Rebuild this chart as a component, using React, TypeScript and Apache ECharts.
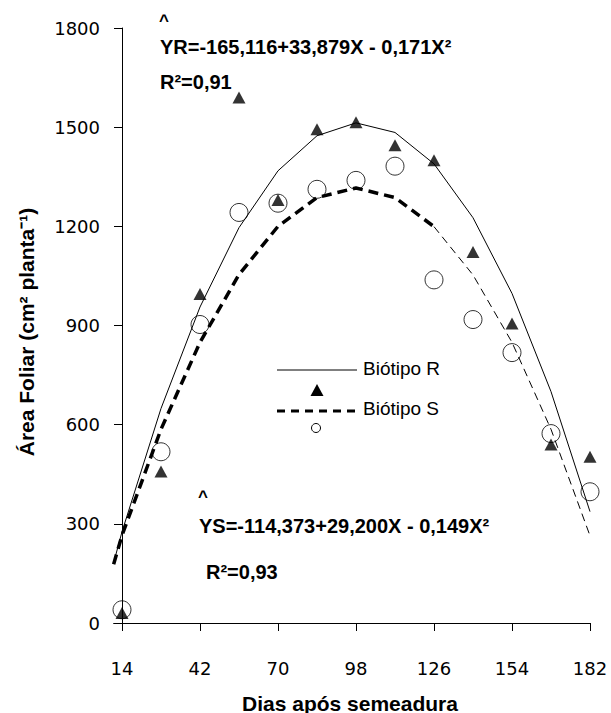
import React, { useEffect, useRef } from "react";
import * as echarts from "echarts";

// Observed data (Dias após semeadura vs Área Foliar)
const daysTicks = [14, 42, 70, 98, 126, 154, 182];
const obsDays = [14, 28, 42, 56, 70, 84, 98, 112, 126, 140, 154, 168, 182];
const obsR = [30, 458, 995, 1590, 1280, 1494, 1515, 1445, 1400, 1122, 906, 540, 503];
const obsS = [40, 518, 903, 1242, 1270, 1312, 1339, 1382, 1038, 918, 818, 573, 397];

// Fitted curves
const fitDays = [11, 14, 28, 42, 56, 70, 84, 98, 112, 126, 140, 154, 168, 182];
const fitR = [182, 276, 649, 956, 1196, 1368, 1474, 1513, 1484, 1389, 1226, 997, 700, 337];
const fitS = [178, 265, 586, 849, 1054, 1200, 1287, 1316, 1287, 1199, 1053, 849, 586, 264];
const thickUntil = 126;
const yTicks = [0, 300, 600, 900, 1200, 1500, 1800];

const eqR = "YR=-165,116+33,879X - 0,171X²";
const r2R = "R²=0,91";
const eqS = "YS=-114,373+29,200X - 0,149X²";
const r2S = "R²=0,93";
const legendR = "Biótipo R";
const legendS = "Biótipo S";

const X_MIN = 11;
const X_MAX = 182;
const PLOT_RIGHT = 590;
const Y_AXIS_X = 122;

export default function App() {
  const ref = useRef<HTMLDivElement>(null);
  useEffect(() => {
    if (!ref.current) return;
    const chart = echarts.init(ref.current, null, { renderer: "svg" });
    const pair = (xs: number[], ys: number[]) => xs.map((x, i) => [x, ys[i]]);
    const fitSPairs = pair(fitDays, fitS);
    const sThick = fitSPairs.filter((p) => p[0] <= thickUntil);
    const sThin = fitSPairs.filter((p) => p[0] >= thickUntil);
    const pxPerDay = (PLOT_RIGHT - Y_AXIS_X) / (182 - 14);
    const gridLeft = Y_AXIS_X - (14 - X_MIN) * pxPerDay;
    const eqFont = { fontFamily: "Liberation Sans, Arial, sans-serif", fontWeight: "bold", fill: "#000" };
    chart.setOption({
      animation: false,
      backgroundColor: "#fff",
      grid: { left: gridLeft, right: 611 - PLOT_RIGHT, top: 28, bottom: 90 },
      xAxis: {
        type: "value",
        min: X_MIN,
        max: X_MAX,
        splitLine: { show: false },
        axisLine: { show: true, onZero: false, lineStyle: { color: "#000", width: 1 } },
        axisTick: { show: true, inside: false, length: 8, lineStyle: { color: "#000" }, customValues: daysTicks },
        axisLabel: {
          margin: 36,
          color: "#000",
          fontSize: 18,
          fontFamily: "DejaVu Sans, sans-serif",
          customValues: daysTicks,
          formatter: (v: number) => String(v),
        },
      },
      yAxis: {
        type: "value",
        min: 0,
        max: 1800,
        interval: 300,
        offset: -(Y_AXIS_X - gridLeft),
        splitLine: { show: false },
        axisLine: { show: true, onZero: false, lineStyle: { color: "#000", width: 1 } },
        axisTick: { show: true, inside: false, length: 8, lineStyle: { color: "#000" }, customValues: yTicks },
        axisLabel: {
          margin: 22,
          color: "#000",
          fontSize: 18,
          fontFamily: "DejaVu Sans, sans-serif",
          customValues: yTicks,
          formatter: (v: number) => String(v),
        },
      },
      series: [
        {
          type: "line",
          name: legendR,
          data: pair(fitDays, fitR),
          showSymbol: false,
          symbol: "none",
          clip: false,
          lineStyle: { color: "#000", width: 1 },
          z: 2,
        },
        {
          type: "line",
          name: legendS,
          data: sThick,
          showSymbol: false,
          symbol: "none",
          clip: false,
          lineStyle: { color: "#000", width: 3.5, type: [10, 6] },
          z: 2,
        },
        {
          type: "line",
          name: legendS + " ",
          data: sThin,
          showSymbol: false,
          symbol: "none",
          clip: false,
          lineStyle: { color: "#000", width: 1, type: [8, 5] },
          z: 2,
        },
        {
          type: "scatter",
          name: "S obs",
          data: pair(obsDays, obsS),
          symbol: "circle",
          symbolSize: 18,
          clip: false,
          itemStyle: { color: "rgba(0,0,0,0)", borderColor: "#000", borderWidth: 1 },
          z: 3,
        },
        {
          type: "scatter",
          name: "R obs",
          data: pair(obsDays, obsR),
          symbol: "triangle",
          symbolSize: [13, 12],
          clip: false,
          itemStyle: { color: "#000" },
          z: 4,
        },
      ],
      graphic: [
        // Equations
        { type: "text", left: 159, top: 12, style: { ...eqFont, text: "^", fontSize: 17 } },
        { type: "text", x: 160, y: 47, style: { ...eqFont, text: eqR, fontSize: 20, verticalAlign: "middle" } },
        { type: "text", x: 160, y: 82, style: { ...eqFont, text: r2R, fontSize: 20, verticalAlign: "middle" } },
        { type: "text", left: 198, top: 488, style: { ...eqFont, text: "^", fontSize: 17 } },
        { type: "text", x: 199, y: 526, style: { ...eqFont, text: eqS, fontSize: 20, verticalAlign: "middle" } },
        { type: "text", x: 206, y: 572, style: { ...eqFont, text: r2S, fontSize: 20, verticalAlign: "middle" } },
        // Legend
        { type: "line", shape: { x1: 277, y1: 370, x2: 357, y2: 370 }, style: { stroke: "#000", lineWidth: 1 } },
        {
          type: "text",
          x: 363,
          y: 368,
          style: { text: legendR, fontSize: 19, fontFamily: "Liberation Sans, Arial, sans-serif", fill: "#000", verticalAlign: "middle" },
        },
        {
          type: "polygon",
          shape: { points: [[317, 384], [323.5, 396], [310.5, 396]] },
          style: { fill: "#000" },
        },
        {
          type: "line",
          shape: { x1: 277, y1: 411, x2: 357, y2: 411 },
          style: { stroke: "#000", lineWidth: 3, lineDash: [8, 6] },
        },
        {
          type: "text",
          x: 363,
          y: 408,
          style: { text: legendS, fontSize: 19, fontFamily: "Liberation Sans, Arial, sans-serif", fill: "#000", verticalAlign: "middle" },
        },
        { type: "circle", shape: { cx: 316, cy: 428, r: 4.5 }, style: { fill: "#fff", stroke: "#000", lineWidth: 1 } },
        // Axis titles
        {
          type: "text",
          x: 350,
          y: 703,
          style: {
            ...eqFont,
            text: "Dias após semeadura",
            fontSize: 21,
            align: "center",
            verticalAlign: "middle",
          },
        },
        {
          type: "text",
          x: 26,
          y: 332,
          rotation: Math.PI / 2,
          style: {
            ...eqFont,
            text: "Área Foliar (cm² planta⁻¹)",
            fontSize: 21,
            align: "center",
            verticalAlign: "middle",
          },
        },
      ],
    });
    return () => chart.dispose();
  }, []);
  return <div ref={ref} style={{ position: "fixed", left: 0, top: 0, width: 611, height: 713 }} />;
}
